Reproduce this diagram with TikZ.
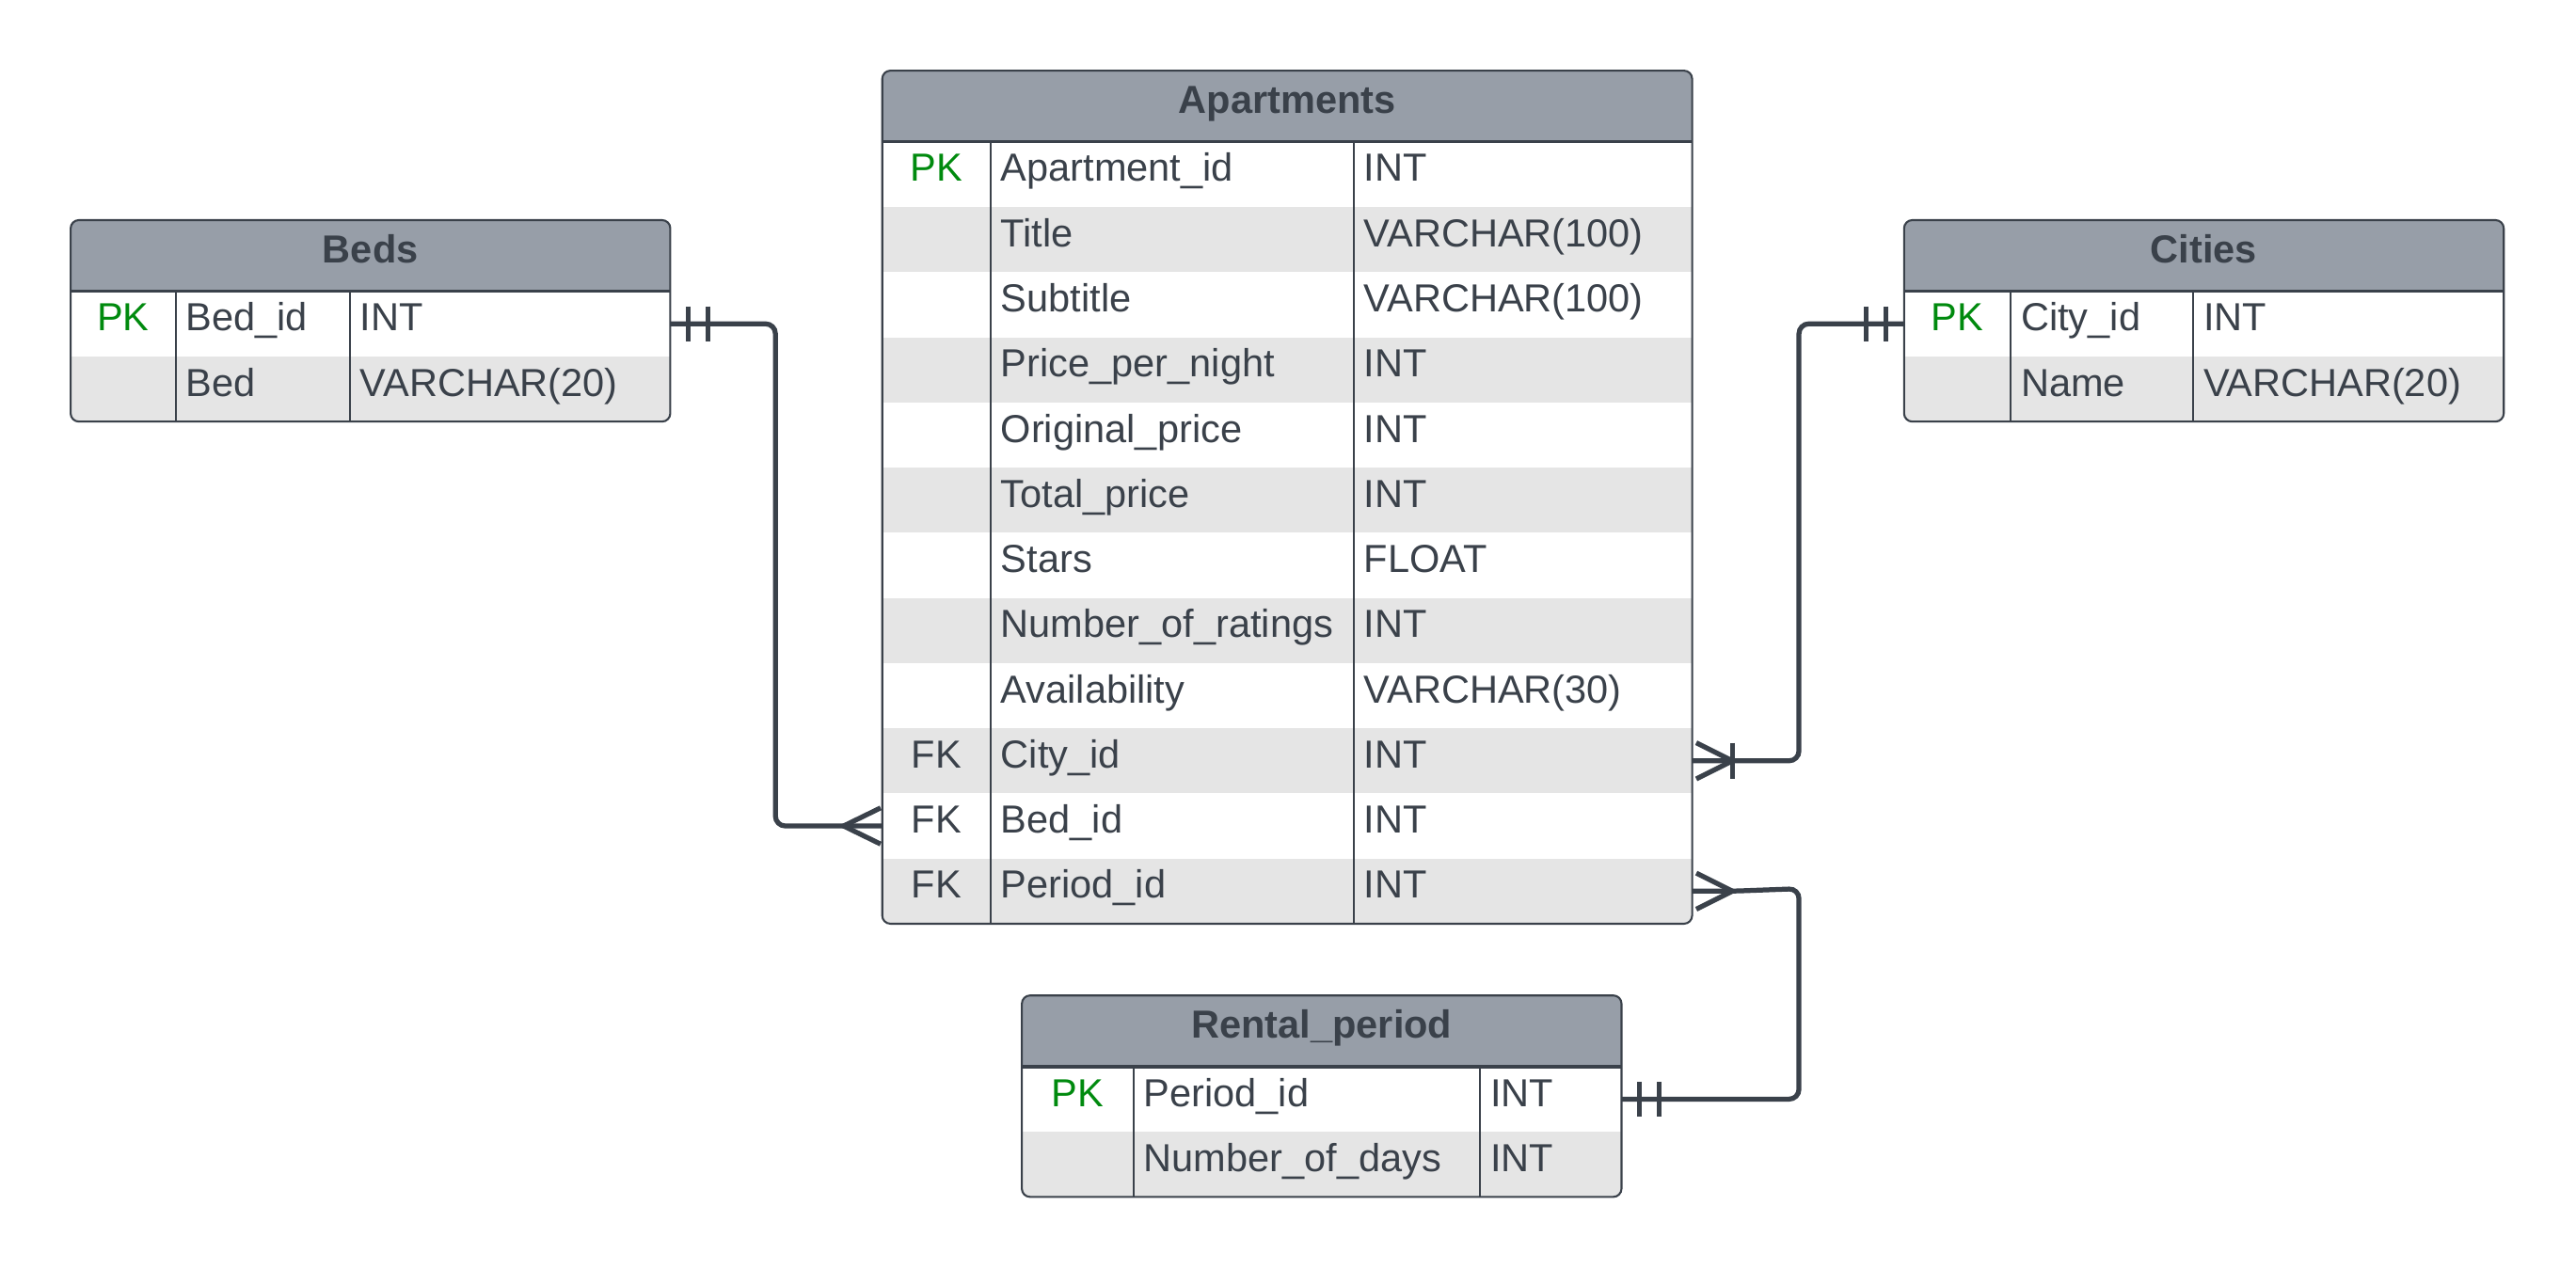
\documentclass[tikz,border=0pt]{standalone}
\usepackage{fontspec}
\setmainfont{Liberation Sans}
\usetikzlibrary{calc}
\definecolor{hdr}{HTML}{979EA8}
\definecolor{ink}{HTML}{3A414A}
\definecolor{rowg}{HTML}{E5E5E5}
\definecolor{pkgreen}{HTML}{008A0E}
\tikzset{
  rowbox/.style={draw=none, inner sep=0pt, outer sep=0pt, minimum height=39.67pt},
  tbl/.style={draw=ink, line width=1.2pt, rounded corners=5pt, inner sep=0pt, outer sep=0pt},
  cell/.style={inner sep=0pt, anchor=base west, font=\fontsize{23.8}{28}\selectfont, text=ink},
  keycell/.style={inner sep=0pt, anchor=base, font=\fontsize{23.8}{28}\selectfont},
  ttl/.style={inner sep=0pt, anchor=base, font=\fontsize{23.8}{28}\selectfont\bfseries, text=ink},
  rel/.style={draw=ink, line width=3pt, rounded corners=6pt},
  barl/.style={draw=ink, line width=3pt},
  foot/.style={draw=ink, line width=3pt, line join=miter}
}
% #1 name, #2 left, #3 right, #4 top, #5 col1, #6 col2, #7 title, #8 rows, #9 number of rows
\newcommand\ERtable[9]{%
  \pgfmathsetmacro\erB{#4+43.3+#9*39.67}%
  \pgfmathsetmacro\erH{#4+43.3}%
  \begin{scope}
    \clip[rounded corners=5pt] (#2,#4) rectangle (#3,\erB);
    \fill[hdr] (#2,#4) rectangle (#3,\erH);
    \foreach \c/\k/\n/\t [count=\i] in {#8}{%
      \pgfmathsetmacro\ry{\erH+(\i-0.5)*39.67}%
      \ifodd\i\def\rc{white}\else\def\rc{rowg}\fi
      \node[rowbox, fill=\rc, minimum width={#3-#2}] (#1-r\i) at ({(#2+#3)/2},\ry) {};
    }
  \end{scope}
  \foreach \c/\k/\n/\t [count=\i] in {#8}{%
    \pgfmathsetmacro\rb{\erH+(\i-1)*39.67+24.2}%
    \node[keycell, text=\c] (#1-k\i) at ({(#2+#5)/2},\rb) {\k};
    \node[cell] (#1-n\i) at (#5+6,\rb) {\n};
    \node[cell] (#1-t\i) at (#6+6,\rb) {\t};
  }
  \draw[ink, line width=1pt] (#5,\erH) -- (#5,\erB) (#6,\erH) -- (#6,\erB);
  \draw[ink, line width=2pt] (#2,\erH) -- (#3,\erH);
  \node[tbl, minimum width={#3-#2}, minimum height={\erB-#4}] (#1) at ({(#2+#3)/2},{(#4+\erB)/2}) {};
  \node[ttl] (#1-title) at ({(#2+#3)/2},#4+26.2) {#7};
}
\begin{document}
\begin{tikzpicture}[x=1pt,y=-1pt]
\fill[white] (0,0) rectangle (1568,772);
\useasboundingbox (0,0) rectangle (1568,772);

\ERtable{apt}{537}{1030}{43}{603}{824}{Apartments}{%
  pkgreen/PK/Apartment\_id/INT,
  ink//Title/VARCHAR(100),
  ink//Subtitle/VARCHAR(100),
  ink//Price\_per\_night/INT,
  ink//Original\_price/INT,
  ink//Total\_price/INT,
  ink//Stars/FLOAT,
  ink//Number\_of\_ratings/INT,
  ink//Availability/VARCHAR(30),
  ink/FK/City\_id/INT,
  ink/FK/Bed\_id/INT,
  ink/FK/Period\_id/INT}{12}

\ERtable{beds}{43}{408}{134}{107}{213}{Beds}{%
  pkgreen/PK/Bed\_id/INT,
  ink//Bed/VARCHAR(20)}{2}

\ERtable{cit}{1159}{1524}{134}{1224}{1335}{Cities}{%
  pkgreen/PK/City\_id/INT,
  ink//Name/VARCHAR(20)}{2}

\ERtable{rent}{622}{987}{606}{690}{901}{Rental\_period}{%
  pkgreen/PK/Period\_id/INT,
  ink//Number\_of\_days/INT}{2}

% junction coordinates
\coordinate (jb) at (472,0);
\coordinate (jc) at (1095,0);

% Beds -- Apartments
\draw[rel] (beds-r1.east) -| (jb |- apt-r11.west) -- (apt-r11.west);
\draw[barl] ([shift={(11,-10.6)}]beds-r1.east) -- ++(0,21.2);
\draw[barl] ([shift={(23,-10.6)}]beds-r1.east) -- ++(0,21.2);
\draw[foot] ([shift={(-1,-11)}]apt-r11.west) -- ([shift={(-23.5,0)}]apt-r11.west) -- ([shift={(-1,11)}]apt-r11.west);

% Apartments -- Cities
\draw[rel] (apt-r10.east) -- (jc |- apt-r10.east) |- (cit-r1.west);
\draw[foot] ([shift={(2.5,-11)}]apt-r10.east) -- ([shift={(24.5,0)}]apt-r10.east) -- ([shift={(2.5,11)}]apt-r10.east);
\draw[barl] ([shift={(24.5,-11)}]apt-r10.east) -- ++(0,22);
\draw[barl] ([shift={(-11,-10.6)}]cit-r1.west) -- ++(0,21.2);
\draw[barl] ([shift={(-23,-10.6)}]cit-r1.west) -- ++(0,21.2);

% Apartments -- Rental_period
\draw[rel] (apt-r12.east) -- ([xshift=24.5pt]apt-r12.east) -- ($(jc |- apt-r12.east)+(0,-1.5)$) |- (rent-r1.east);
\draw[foot] ([shift={(2.5,-11)}]apt-r12.east) -- ([shift={(24.5,0)}]apt-r12.east) -- ([shift={(2.5,11)}]apt-r12.east);
\draw[barl] ([shift={(11,-10.6)}]rent-r1.east) -- ++(0,21.2);
\draw[barl] ([shift={(23,-10.6)}]rent-r1.east) -- ++(0,21.2);
\end{tikzpicture}
\end{document}
